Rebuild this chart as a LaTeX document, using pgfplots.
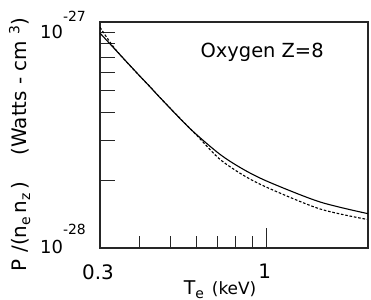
\documentclass[border=0pt]{standalone}
\usepackage{pgfplots}
\pgfplotsset{compat=1.18}
\usepackage{fontspec}
\setmainfont{DejaVu Sans}
\begin{document}
\begin{tikzpicture}
\begin{axis}[
  scale only axis, width=268bp, height=226bp,
  xmode=log, ymode=log,
  xmin=0.3, xmax=2.076, ymin=1e-28, ymax=1e-27,
  axis line style={line width=1.3bp, black!85},
  tick align=inside,
  xtick pos=left, ytick pos=left,
  xtick={0.3,1}, xticklabels={0.3,1},
  minor xtick={0.4,0.5,0.6,0.7,0.8,0.9},
  major tick length=20bp, minor tick length=12bp,
  every tick/.style={black!85, line width=1bp},
  ytick={1e-28,1e-27},
  yticklabels={{\raisebox{-5bp}{10\raisebox{19bp}{\fontsize{14}{14}\selectfont -28}}},{\raisebox{-16bp}{10\raisebox{17bp}{\fontsize{14}{14}\selectfont -27}}}},
  extra y ticks={2e-28,3e-28,4e-28,5e-28,6e-28,7e-28,8e-28,9e-28},
  extra y tick labels={},
  extra y tick style={major tick length=15bp},
  yticklabel style={anchor=base east, inner sep=0pt, xshift=-14bp, font=\fontsize{18}{18}\selectfont},
  xticklabel style={anchor=north, inner sep=0pt, yshift=-16bp, xshift=-2bp, font=\fontsize{20}{20}\selectfont},
  xlabel={{\fontsize{19}{19}\selectfont T}{\fontsize{14}{14}\selectfont\raisebox{-4bp}{e}}\hspace{8bp}{\fontsize{17}{17}\selectfont (keV)}},
  xlabel style={at={(rel axis cs:0.448,-0.2035)}, anchor=base, inner sep=0pt},
  ylabel={P /(n\textsubscript{e}\,n\textsubscript{z}\,)\quad\ (Watts - cm \textsuperscript{3})},
  ylabel style={at={(rel axis cs:-0.2724,0.46)}, anchor=base, inner sep=0pt, font=\fontsize{20}{20}\selectfont},
]
\addplot[black, line width=1.1bp, smooth] coordinates {
(0.300,8.94e-28) (0.377,6.31e-28) (0.430,5.18e-28) (0.469,4.54e-28)
(0.5745,3.38e-28) (0.713,2.60e-28) (0.854,2.21e-28) (1.024,1.95e-28)
(1.468,1.60e-28) (2.076,1.42e-28)
};
\addplot[black, line width=1.1bp, dash pattern=on 2.6bp off 1.8bp, smooth] coordinates {
(0.300,9.48e-28) (0.334,7.63e-28) (0.386,6.08e-28) (0.430,5.18e-28)
(0.469,4.54e-28) (0.5745,3.38e-28) (0.617,3.05e-28) (0.713,2.47e-28)
(0.854,2.08e-28) (1.024,1.83e-28) (1.468,1.49e-28) (2.060,1.34e-28)
};
\node[font=\fontsize{19.5}{19.5}\selectfont] at (rel axis cs:0.605,0.867) {Oxygen Z=8};
\end{axis}
\pgfresetboundingbox
\path[use as bounding box] ([shift={(-100bp,-52bp)}]current axis.south west) rectangle ([shift={(3bp,22bp)}]current axis.north east);
\end{tikzpicture}
\end{document}
